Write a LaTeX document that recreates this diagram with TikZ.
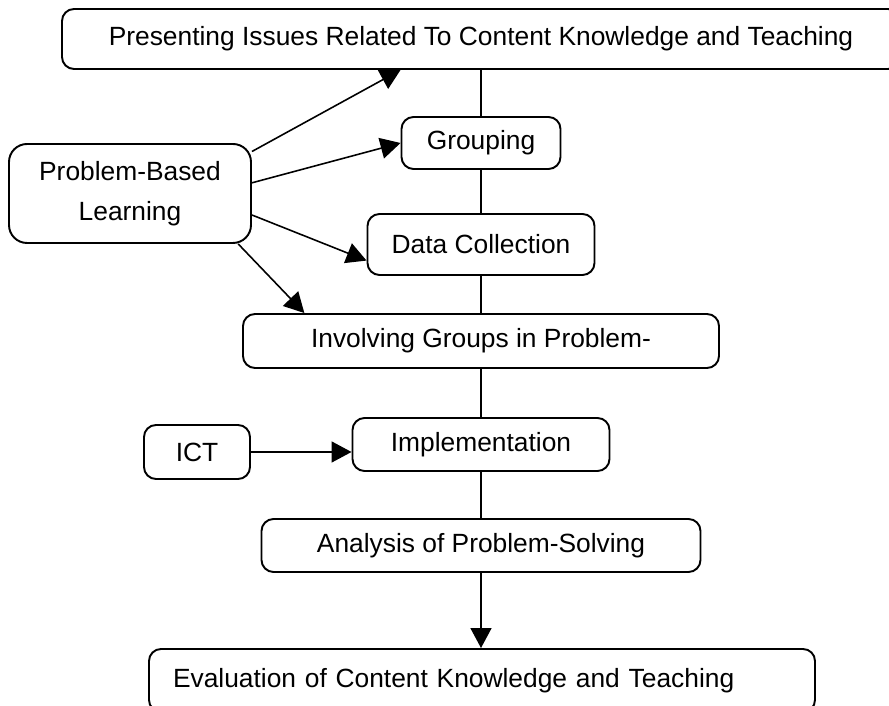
\documentclass[tikz,border=0pt]{standalone}
\usepackage{fontspec}
\setmainfont{Liberation Sans}
\usepackage{tikz}
\usetikzlibrary{arrows.meta,calc}
\tikzset{
    block/.style = {draw, rectangle, rounded corners=2.4mm,
        line width=1.1pt, inner sep=0pt, align=center},
    arrow/.style = {draw, line width=0.9pt, -{Triangle[length=4mm,width=4.2mm]}},
    link/.style = {draw, line width=0.9pt}
}

\begin{document}
\begin{tikzpicture}[font=\fontsize{15}{20}\selectfont]
  \useasboundingbox (0,0) rectangle (17.78,14.12);
  \node[block, minimum width=16.76cm, minimum height=1.2cm] (top) at (9.62,13.34)
    {Presenting Issues Related To Content Knowledge and Teaching};
  \node[block, minimum width=3.18cm, minimum height=1.04cm] (group) at (9.62,11.26) {Grouping};
  \node[block, minimum width=4.84cm, minimum height=1.98cm, rounded corners=3.6mm] (pbl) at (2.6,10.25)
    {Problem-Based\\[3pt]Learning};
  \node[block, minimum width=4.54cm, minimum height=1.22cm] (data) at (9.62,9.23) {Data Collection};
  \node[block, minimum width=9.52cm, minimum height=1.08cm] (involve) at (9.62,7.30)
    {Involving Groups in Problem-};
  \node[block, minimum width=2.12cm, minimum height=1.08cm] (ict) at (3.94,5.08) {ICT};
  \node[block, minimum width=5.14cm, minimum height=1.06cm] (impl) at (9.62,5.23) {Implementation};
  \node[block, minimum width=8.78cm, minimum height=1.06cm] (analysis) at (9.62,3.21)
    {Analysis of Problem-Solving};
  \node[block, minimum height=1.26cm, inner xsep=0.48cm, text width=12.36cm, align=left] (eval) at (9.64,0.51)
    {Evaluation of Content Knowledge and Teaching};

  % main line
  \draw[link] (top) -- (group);
  \draw[link] (group) -- (data);
  \draw[link] (data) -- (involve);
  \draw[link] (involve) -- (impl);
  \draw[link] (impl) -- (analysis);
  \draw[arrow] (analysis.south) -- (analysis.south |- eval.north);

  % inputs
  \draw[arrow] (pbl.19) -- (top.south -| group.west);
  \draw[arrow] (pbl.5) -- (group.west);
  \draw[arrow] (pbl.-10) -- (data.188);
  \draw[arrow] (pbl.-25) -- (involve.171.5);
  \draw[arrow] (ict.east) -- (ict.east -| impl.west);
\end{tikzpicture}
\end{document}
